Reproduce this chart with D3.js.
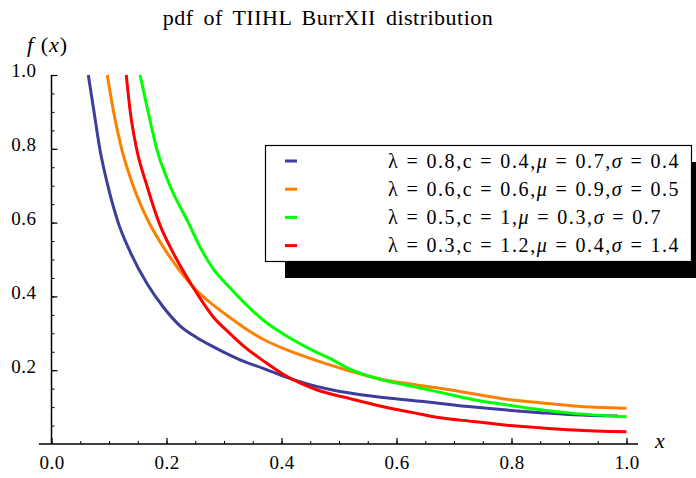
<!DOCTYPE html>
<html><head><meta charset="utf-8">
<script src="https://cdn.jsdelivr.net/npm/d3@7"></script>
<style>
body{margin:0;background:#fff;}
svg text{font-family:"Liberation Serif","Times New Roman",serif;fill:#000;}
</style></head>
<body><svg id="c" width="696" height="478"></svg>
<script>
const title = "pdf  of  TIIHL BurrXII distribution";
const xTicks = [0, 0.2, 0.4, 0.6, 0.8, 1.0];
const yTicks = [0.2, 0.4, 0.6, 0.8, 1.0];
const seriesColors = ["#3d3d9c", "#ff8000", "#00ff00", "#ff0000"];
const legendParams = [
  ["0.8", "0.4", "0.7", "0.4"],
  ["0.6", "0.6", "0.9", "0.5"],
  ["0.5", "1", "0.3", "0.7"],
  ["0.3", "1.2", "0.4", "1.4"]
];
const blueX = [0.064,0.074,0.084,0.098,0.116,0.137,0.166,0.194,0.223,0.253,0.281,0.310,0.339,0.368,0.403,0.461,0.519,0.577,0.647,0.734,0.792,0.850,0.908,0.985];
const blueY = [1.0,0.9,0.8,0.7,0.6,0.52,0.435,0.372,0.321,0.288,0.264,0.241,0.221,0.205,0.184,0.156,0.138,0.126,0.115,0.100,0.092,0.085,0.079,0.076];
const orangeX = [0.097,0.108,0.122,0.142,0.168,0.194,0.223,0.253,0.281,0.310,0.339,0.368,0.403,0.461,0.519,0.577,0.635,0.693,0.734,0.792,0.850,0.908,1.0];
const orangeY = [1.0,0.9,0.8,0.7,0.605,0.535,0.470,0.415,0.377,0.343,0.311,0.284,0.259,0.226,0.198,0.174,0.160,0.147,0.136,0.121,0.112,0.103,0.097];
const greenX = [0.154,0.168,0.183,0.206,0.238,0.258,0.281,0.310,0.339,0.368,0.397,0.426,0.455,0.484,0.519,0.577,0.635,0.693,0.734,0.792,0.850,0.908,1.0];
const greenY = [1.0,0.9,0.8,0.7,0.6,0.535,0.475,0.424,0.377,0.336,0.304,0.277,0.253,0.232,0.203,0.173,0.154,0.134,0.120,0.106,0.093,0.083,0.074];
const redX = [0.130,0.137,0.148,0.166,0.187,0.212,0.235,0.253,0.281,0.310,0.339,0.368,0.403,0.461,0.519,0.571,0.629,0.676,0.734,0.792,0.850,0.908,1.0];
const redY = [1.0,0.9,0.8,0.7,0.6,0.517,0.453,0.408,0.345,0.300,0.259,0.226,0.189,0.147,0.123,0.103,0.085,0.071,0.061,0.051,0.044,0.038,0.033];

const seriesX = [blueX, orangeX, greenX, redX];
const seriesY = [blueY, orangeY, greenY, redY];

const svg = d3.select("#c");
const x = d3.scaleLinear().domain([0, 1]).range([51.5, 626.5]);
const y = d3.scaleLinear().domain([0, 1]).range([444, 75]);
const serif = '"Liberation Serif","Times New Roman",serif';

// title
svg.append("text").attr("x", 328).attr("y", 25).attr("text-anchor", "middle")
  .style("font-size", "22px").style("letter-spacing", "0.5px").style("word-spacing", "4px").text(title);

// curves
const line = d3.line().x(d => x(d[0])).y(d => y(d[1])).curve(d3.curveMonotoneX);
seriesX.forEach((xs, i) => {
  const pts = xs.map((v, j) => [v, seriesY[i][j]]);
  svg.append("path").datum(pts).attr("d", line).attr("fill", "none")
    .attr("stroke", seriesColors[i]).attr("stroke-width", 3).attr("stroke-linejoin", "round");
});

// axes lines
svg.append("line").attr("x1", x(-0.022)).attr("x2", x(1.02)).attr("y1", y(0)).attr("y2", y(0))
  .attr("stroke", "#000").attr("stroke-width", 1.5);
svg.append("line").attr("x1", x(0)).attr("x2", x(0)).attr("y1", y(0)).attr("y2", y(1))
  .attr("stroke", "#000").attr("stroke-width", 1.5);

// x ticks
const minorX = d3.range(0, 1.0001, 0.05);
svg.append("g").attr("transform", `translate(0,${y(0)})`)
  .call(d3.axisBottom(x).tickValues(minorX).tickSize(-3).tickFormat(""))
  .call(g => g.select(".domain").remove());
svg.append("g").attr("transform", `translate(0,${y(0)})`)
  .call(d3.axisBottom(x).tickValues(xTicks).tickSize(-6).tickPadding(12).tickFormat(d3.format(".1f")))
  .call(g => g.select(".domain").remove())
  .call(g => g.attr("font-family", null).attr("font-size", null))
  .call(g => g.selectAll("text").style("font-size", "19px").style("font-family", serif).style("letter-spacing", "0.5px"))
  .call(g => g.selectAll("line").attr("stroke-width", 1.2));

// y ticks
const minorY = d3.range(0.05, 1.0001, 0.05);
svg.append("g").attr("transform", `translate(${x(0)},0)`)
  .call(d3.axisLeft(y).tickValues(minorY).tickSize(-3).tickFormat(""))
  .call(g => g.select(".domain").remove());
svg.append("g").attr("transform", `translate(${x(0)},0)`)
  .call(d3.axisLeft(y).tickValues(yTicks).tickSize(-6).tickPadding(15).tickFormat(d3.format(".1f")))
  .call(g => g.select(".domain").remove())
  .call(g => g.attr("font-family", null).attr("font-size", null))
  .call(g => g.selectAll("text").style("font-size", "19px").style("font-family", serif).style("letter-spacing", "0.5px").attr("dy", "0.1em"))
  .call(g => g.selectAll("line").attr("stroke-width", 1.2));

// axis labels
const fl = svg.append("text").attr("x", 27).attr("y", 52).style("font-size", "22px").style("letter-spacing", "1px");
fl.append("tspan").style("font-style", "italic").text("f");
fl.append("tspan").text(" (");
fl.append("tspan").style("font-style", "italic").text("x");
fl.append("tspan").text(")");
svg.append("text").attr("x", 655).attr("y", 448).style("font-size", "22px").style("font-style", "italic").text("x");

// legend
const lg = svg.append("g");
lg.append("rect").attr("x", 285).attr("y", 162).attr("width", 430).attr("height", 116).attr("fill", "#000");
lg.append("rect").attr("x", 265.5).attr("y", 145.5).attr("width", 426).attr("height", 116)
  .attr("fill", "#fff").attr("stroke", "#000").attr("stroke-width", 1.2);
legendParams.forEach((p, i) => {
  const cy = 161 + i * 28.2;
  lg.append("line").attr("x1", 285).attr("x2", 297).attr("y1", cy).attr("y2", cy)
    .attr("stroke", seriesColors[i]).attr("stroke-width", 3);
  const t = lg.append("text").attr("x", 388).attr("y", cy + 6.5)
    .style("font-size", "20px").style("letter-spacing", "1.6px").style("word-spacing", "0.5px");
  t.append("tspan").text(`λ = ${p[0]},c = ${p[1]},`);
  t.append("tspan").style("font-style", "italic").text("μ");
  t.append("tspan").text(` = ${p[2]},`);
  t.append("tspan").style("font-style", "italic").text("σ");
  t.append("tspan").text(` = ${p[3]}`);
});
</script></body></html>
